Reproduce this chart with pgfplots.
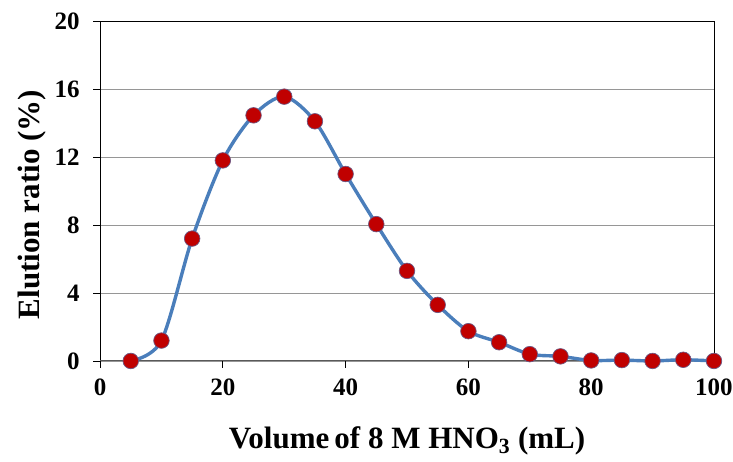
\documentclass[border=0pt]{standalone}
\usepackage{fontspec}
\setmainfont{Liberation Serif}
\usepackage{pgfplots}
\pgfplotsset{compat=1.18}
\definecolor{lineBlue}{HTML}{4A7EBB}
\definecolor{dotRed}{HTML}{C00000}
\definecolor{gridGray}{HTML}{969696}

\begin{document}
\begin{tikzpicture}
\begin{axis}[
  scale only axis,
  width=614pt, height=340pt,
  xmin=0, xmax=100, ymin=0, ymax=20,
  xtick={0,20,...,100}, ytick={0,4,...,20},
  axis line style={draw=none},
  tick align=outside, major tick length=7pt,
  xtick pos=left, ytick pos=left,
  tick style={black, line width=0.8pt},
  ymajorgrids, grid style={gridGray, line width=0.8pt},
  /pgf/number format/assume math mode=true,
  ticklabel style={font=\fontsize{25}{27}\selectfont\bfseries},
  xticklabel style={yshift=-7pt},
  yticklabel style={xshift=-10pt},
  xlabel={Volume\,of 8 M HNO\textsubscript{3} (mL)},
  ylabel={Elution ratio (\%)},
  label style={font=\fontsize{31}{33}\selectfont\bfseries},
  xlabel style={yshift=-24pt},
  ylabel style={at={(ticklabel cs:0.46)}, yshift=2pt},
  clip=false,
]
\draw[black, line width=0.9pt] (rel axis cs:0,0) -- (rel axis cs:0,1) -- (rel axis cs:1,1) -- (rel axis cs:1,0);
\draw[gray!70!black, line width=1pt] (rel axis cs:0,0) -- (rel axis cs:1,0);
\addplot[lineBlue, line width=3.4pt, smooth, tension=0.5,
  mark=*, mark size=7.8pt,
  mark options={fill=dotRed, draw=lineBlue!70!dotRed, line width=0.7pt}]
  coordinates {
  (5,0) (10,1.2) (15,7.2) (20,11.8) (25,14.45) (30,15.55) (35,14.1)
  (40,11.0) (45,8.05) (50,5.3) (55,3.3) (60,1.75) (65,1.1) (70,0.4)
  (75,0.27) (80,0.03) (85,0.05) (90,0.0) (95,0.07) (100,0.0)
};
\coordinate (bl) at (rel axis cs:-0.163,-0.296);
\coordinate (tr) at (rel axis cs:1.031,1.0618);
\end{axis}
\pgfresetboundingbox
\useasboundingbox (bl) rectangle (tr);
\end{tikzpicture}
\end{document}
